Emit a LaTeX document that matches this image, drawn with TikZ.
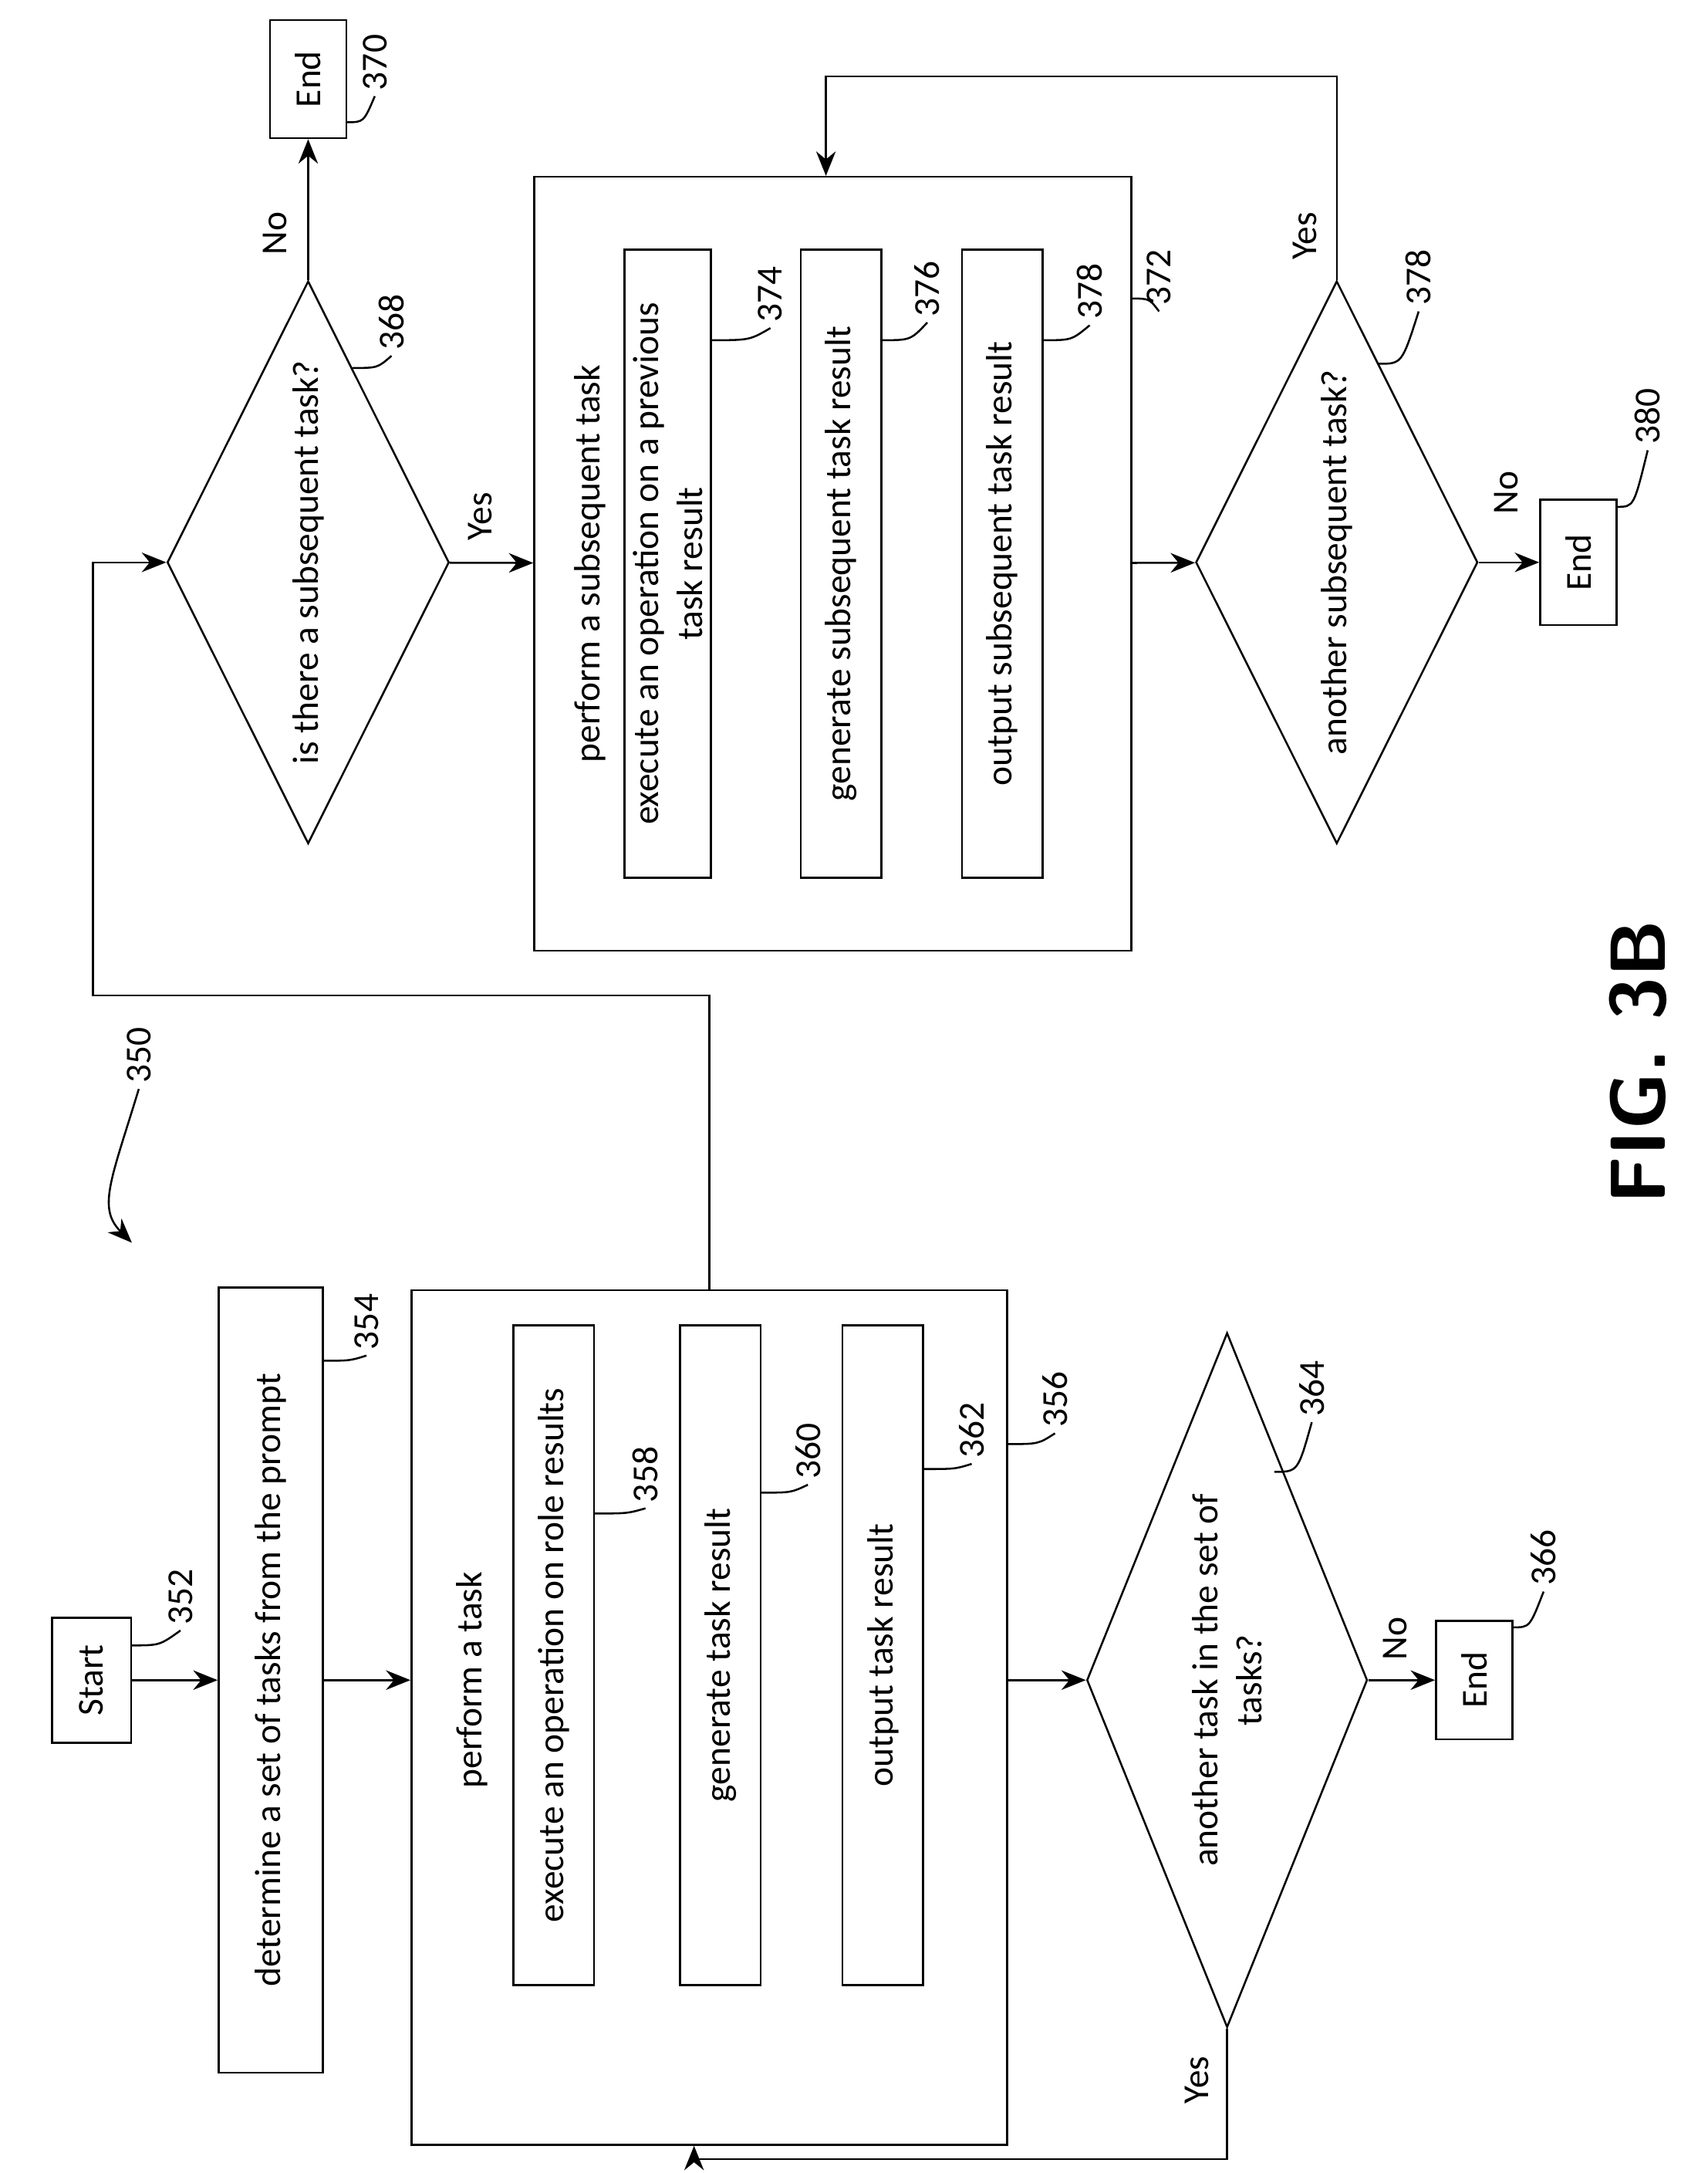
\documentclass[tikz,border=0pt]{standalone}
\usepackage{fontspec}
\setmainfont{Carlito}
\usetikzlibrary{shapes.geometric,arrows.meta}
\begin{document}
\begin{tikzpicture}[x=0.01cm, y=-0.01cm, font=\fontsize{7.5}{9}\selectfont,
  box/.style={draw, rotate=90, inner sep=0, align=center},
  dec/.style={draw, diamond, inner sep=0},
  num/.style={rotate=90, inner sep=1pt, align=center},
  lead/.style={thin},
  arr/.style={-{Stealth[length=5pt,width=4pt]}}]
\useasboundingbox (0,0) rectangle (1230,1565);

% left column
\node [box, minimum width=.9cm, minimum height=.57cm] (start) at (66,1210) {Start};
\node [box, minimum width=5.65cm, minimum height=.75cm] (det) at (195,1210) {determine a set of tasks from the prompt};
\node [box, minimum width=6.15cm, minimum height=4.29cm] (perf) at (511,1237) {};
\node [num] (t356) at (340,1210) {perform a task};
\node [box, minimum width=4.75cm, minimum height=.58cm] (op1) at (399,1192) {execute an operation on role results};
\node [box, minimum width=4.75cm, minimum height=.58cm] (gen1) at (519,1192) {generate task result};
\node [box, minimum width=4.75cm, minimum height=.58cm] (out1) at (636,1192) {output task result};
\node [dec, minimum width=2.02cm, minimum height=5.0cm] (d364) at (884,1210) {};
\node [num] at (d364) {another task in the set of\\tasks?};
\node [box, minimum width=.85cm, minimum height=.55cm] (end366) at (1062,1210) {End};
\coordinate (c1) at (884,1555);
\coordinate (c2) at (500,1555);

% right column
\node [dec, minimum width=2.03cm, minimum height=4.05cm] (d368) at (222,405) {};
\node [num] at (d368) {is there a subsequent task?};
\node [box, minimum width=.85cm, minimum height=.55cm] (end370) at (222,57) {End};
\node [box, minimum width=5.57cm, minimum height=4.3cm] (sub) at (600,406) {};
\node [num] (t372) at (425,406) {perform a subsequent task};
\node [box, minimum width=4.52cm, minimum height=.62cm] (op2) at (481,406) {execute an operation on a previous\\task result};
\node [box, minimum width=4.52cm, minimum height=.58cm] (gen2) at (606,406) {generate subsequent task result};
\node [box, minimum width=4.52cm, minimum height=.58cm] (out2) at (722,406) {output subsequent task result};
\node [dec, minimum width=2.03cm, minimum height=4.05cm] (d378) at (963,405) {};
\node [num] at (d378) {another subsequent task?};
\node [box, minimum width=.9cm, minimum height=.55cm] (end380) at (1137,405) {End};
\coordinate (c3) at (511,717);
\coordinate (c4) at (67,717);
\coordinate (c5) at (67,405);
\coordinate (c6) at (963,55);
\coordinate (c7) at (595,55);

% connectors
\draw [arr] (start) -- (det);
\draw [arr] (det.south) -- (det.south -| perf.north);
\draw [arr] (d364 -| perf.south) -- (d364);
\draw [arr] (d364) -- (end366);
\node [num] at (1005,1180) {No};
\draw [arr] (d364.south) -- (c1) -- (c2) -- (perf.west -| c2);
\node [num] at (862,1498) {Yes};
\draw [arr] (perf.east -| c3) -- (c3) -- (c4) -- (c5) -- (d368);
\draw [arr] (d368.north) -- (end370);
\node [num] at (198,168) {No};
\draw [arr] (d368) -- (sub);
\node [num] at (346,372) {Yes};
\draw [arr] (sub) -- (d378);
\draw [arr] (d378) -- (end380);
\node [num] at (1085,355) {No};
\draw [arr] (d378.north) -- (c6) -- (c7) -- (sub.east -| c7);
\node [num] at (940,170) {Yes};

% reference numerals
\node [num] (n352) at (130,1150) {352};
\draw [lead] (95,1185) .. controls (115,1185) .. (n352.west);
\node [num] (n354) at (264,952) {354};
\draw [lead] (232,980) .. controls (252,980) .. (n354.west);
\node [num] (n356) at (760,1008) {356};
\draw [lead] (726,1040) .. controls (748,1040) .. (n356.west);
\node [num] (n358) at (465,1062) {358};
\draw [lead] (428,1090) .. controls (452,1090) .. (n358.west);
\node [num] (n360) at (582,1045) {360};
\draw [lead] (548,1075) .. controls (570,1075) .. (n360.west);
\node [num] (n362) at (700,1030) {362};
\draw [lead] (665,1058) .. controls (688,1058) .. (n362.west);
\node [num] (n364) at (945,1000) {364};
\draw [lead] (918,1060) .. controls (935,1060) .. (n364.west);
\node [num] (n366) at (1112,1122) {366};
\draw [lead] (1090,1172) .. controls (1102,1172) .. (n366.west);
\node [num] (n368) at (282,232) {368};
\draw [lead] (254,265) .. controls (272,265) .. (n368.west);
\node [num] (n370) at (270,45) {370};
\draw [lead] (250,88) .. controls (262,88) .. (n370.west);
\node [num] (n372) at (835,200) {372};
\draw [lead] (815,215) .. controls (828,215) .. (n372.west);
\node [num] (n374) at (555,212) {374};
\draw [lead] (512,245) .. controls (540,245) .. (n374.west);
\node [num] (n376) at (668,208) {376};
\draw [lead] (635,245) .. controls (656,245) .. (n376.west);
\node [num] (n378) at (785,210) {378};
\draw [lead] (752,245) .. controls (772,245) .. (n378.west);
\node [num] (n378b) at (1022,200) {378};
\draw [lead] (993,262) .. controls (1010,262) .. (n378b.west);
\node [num] (n380) at (1187,300) {380};
\draw [lead] (1165,365) .. controls (1177,365) .. (n380.west);
\node [num] (n350) at (100,760) {350};
\draw [arr] (n350.west) .. controls (80,850) and (70,870) .. (95,895);

\node [rotate=90, font=\sffamily\bfseries\fontsize{16}{18}\selectfont] at (1180,765) {FIG. 3B};
\end{tikzpicture}
\end{document}
